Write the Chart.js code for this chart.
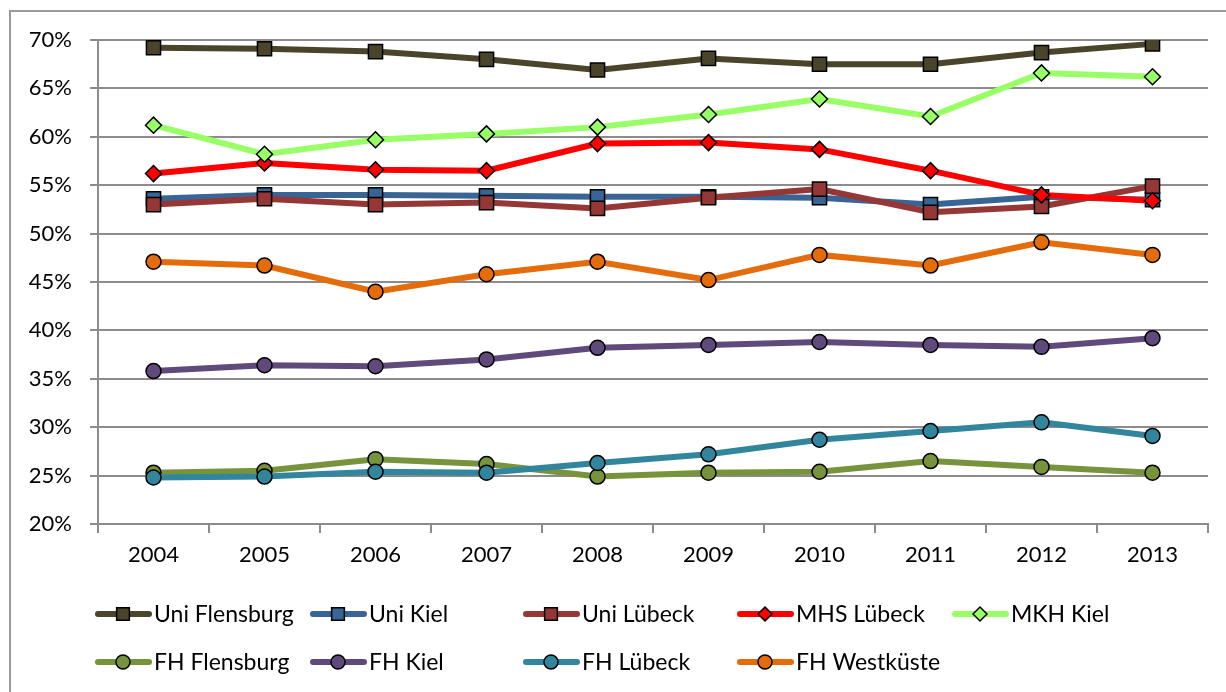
<!DOCTYPE html>
<html>
<head>
<meta charset="utf-8">
<script src="https://cdn.jsdelivr.net/npm/chart.js@4/dist/chart.umd.min.js"></script>
<style>
  html, body { margin: 0; padding: 0; background: #fff; overflow: hidden; }
  #wrap { position: relative; width: 1226px; height: 692px; }
  #frame { position: absolute; left: 9px; top: 10px; width: 1400px; height: 900px; border: 2px solid #9a9a9a; }
  #chart { position: absolute; left: 0; top: 0; }
</style>
</head>
<body>
<div id="wrap">
  <div id="frame"></div>
  <canvas id="chart" width="1226" height="692"></canvas>
</div>
<script>
const years = ['2004', '2005', '2006', '2007', '2008', '2009', '2010', '2011', '2012', '2013'];

const uniFlensburg = [69.2, 69.1, 68.8, 68.0, 66.9, 68.1, 67.5, 67.5, 68.7, 69.6];
const uniKiel      = [53.6, 54.0, 54.0, 53.9, 53.8, 53.8, 53.7, 53.0, 53.8, 53.5];
const uniLuebeck   = [53.0, 53.6, 53.0, 53.2, 52.6, 53.7, 54.6, 52.2, 52.8, 54.9];
const mhsLuebeck   = [56.2, 57.3, 56.6, 56.5, 59.3, 59.4, 58.7, 56.5, 54.0, 53.4];
const mkhKiel      = [61.2, 58.2, 59.7, 60.3, 61.0, 62.3, 63.9, 62.1, 66.6, 66.2];
const fhFlensburg  = [25.3, 25.5, 26.7, 26.2, 24.9, 25.3, 25.4, 26.5, 25.9, 25.3];
const fhKiel       = [35.8, 36.4, 36.3, 37.0, 38.2, 38.5, 38.8, 38.5, 38.3, 39.2];
const fhLuebeck    = [24.8, 24.9, 25.4, 25.3, 26.3, 27.2, 28.7, 29.6, 30.5, 29.1];
const fhWestkueste = [47.1, 46.7, 44.0, 45.8, 47.1, 45.2, 47.8, 46.7, 49.1, 47.8];

const yTicks = [20, 25, 30, 35, 40, 45, 50, 55, 60, 65, 70];

const FONT = 'Lato, "Open Sans", sans-serif';

function series(label, data, color, style, radius) {
  return {
    label, data,
    borderColor: color,
    backgroundColor: color,
    borderWidth: 6,
    tension: 0,
    pointStyle: style,
    pointRadius: radius,
    pointHoverRadius: radius,
    pointBackgroundColor: color,
    pointBorderColor: '#000',
    pointBorderWidth: 1.5
  };
}

const datasets = [
  series('Uni Flensburg', uniFlensburg, '#4a452a', 'rect', 10),
  series('Uni Kiel', uniKiel, '#386496', 'rect', 10),
  series('Uni Lübeck', uniLuebeck, '#953735', 'rect', 10),
  series('MHS Lübeck', mhsLuebeck, '#ff0000', 'rectRot', 8),
  series('MKH Kiel', mkhKiel, '#99ff66', 'rectRot', 8),
  series('FH Flensburg', fhFlensburg, '#77933c', 'circle', 7.5),
  series('FH Kiel', fhKiel, '#604a7b', 'circle', 7.5),
  series('FH Lübeck', fhLuebeck, '#31859c', 'circle', 7.5),
  series('FH Westküste', fhWestkueste, '#e46c0a', 'circle', 7.5)
];
// later series sit on top, like the original
datasets.forEach((d, i) => { d.order = datasets.length - i; });

// legend grid: two rows, fixed columns
const legendCols = [95, 310, 523, 737, 952];
const legendRows = [614, 662];

const gridLegend = {
  id: 'gridLegend',
  afterDraw(chart) {
    const ctx = chart.ctx;
    ctx.save();
    chart.data.datasets.forEach((ds, i) => {
      const x = legendCols[i < 5 ? i : i - 5];
      const y = legendRows[i < 5 ? 0 : 1];
      ctx.strokeStyle = ds.borderColor;
      ctx.lineWidth = 6;
      ctx.lineCap = 'round';
      ctx.beginPath();
      ctx.moveTo(x + 3, y);
      ctx.lineTo(x + 54, y);
      ctx.stroke();
      ctx.fillStyle = ds.pointBackgroundColor;
      ctx.strokeStyle = '#000';
      ctx.lineWidth = 1.5;
      const r = ds.pointStyle === 'rect' ? 9 : 7;
      Chart.helpers.drawPoint(ctx, { pointStyle: ds.pointStyle, rotation: 0, radius: r, borderWidth: 1.5 },
        x + 28, y);
      ctx.fillStyle = '#000';
      ctx.font = '23px ' + FONT;
      ctx.textBaseline = 'middle';
      ctx.textAlign = 'left';
      ctx.fillText(ds.label, x + 59, y + 1);
    });
    ctx.restore();
  }
};

new Chart(document.getElementById('chart'), {
  type: 'line',
  data: { labels: years, datasets },
  options: {
    responsive: false,
    animation: false,
    layout: { padding: { left: 0, right: 18, top: 40, bottom: 0 } },
    plugins: { legend: { display: false }, tooltip: { enabled: false } },
    scales: {
      x: {
        offset: true,
        grid: { offset: true, drawOnChartArea: false, color: '#8c8c8c', lineWidth: 2, tickLength: 9 },
        border: { color: '#8c8c8c', width: 2 },
        ticks: { color: '#000', font: { family: FONT, size: 22 }, padding: 9, maxRotation: 0 },
        afterFit(scale) { scale.height = 168; }
      },
      y: {
        min: 20,
        max: 70,
        afterBuildTicks(scale) { scale.ticks = yTicks.map(v => ({ value: v })); },
        grid: { color: '#8c8c8c', lineWidth: 2, tickLength: 8 },
        border: { color: '#8c8c8c', width: 2 },
        ticks: {
          color: '#000',
          font: { family: FONT, size: 22 },
          padding: 18,
          callback: v => v + '%'
        },
        afterFit(scale) { scale.width = 98; }
      }
    }
  },
  plugins: [gridLegend]
});
</script>
</body>
</html>
